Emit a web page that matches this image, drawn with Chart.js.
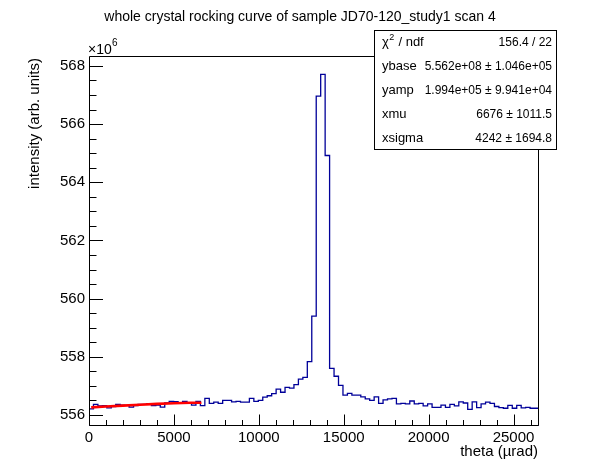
<!DOCTYPE html>
<html><head><meta charset="utf-8">
<script src="https://cdn.jsdelivr.net/npm/chart.js@4.4.1/dist/chart.umd.min.js"></script>
<style>html,body{margin:0;padding:0;background:#fff;} #wrap{width:598px;height:474px;position:relative;}</style>
</head><body><div id="wrap"><canvas id="c" width="598" height="474"></canvas></div>
<script>
const chartTitle = "whole crystal rocking curve of sample JD70-120_study1 scan 4";
const xTitle = "theta (\u00b5rad)";
const yTitle = "intensity (arb. units)";
const yExponent = "6";
const xRange = [0, 26500];
const yRange = [555.62, 568.34]; // intensity in units of 1e6
const nBins = 101;
const xTickLabels = [0, 5000, 10000, 15000, 20000, 25000];
const yTickLabels = [556, 558, 560, 562, 564, 566, 568];
// bin contents (x 1e6)
const counts = [
 556.25,556.21,556.36,556.31,556.32,556.24,556.29,556.36,556.34,556.33,
 556.27,556.32,556.36,556.36,556.39,556.32,556.34,556.27,556.41,556.47,
 556.46,556.40,556.47,556.40,556.34,556.47,556.32,556.57,556.40,556.44,
 556.40,556.50,556.50,556.45,556.47,556.44,556.44,556.57,556.47,556.50,
 556.61,556.66,556.73,556.89,556.78,556.95,556.92,557.04,557.23,557.29,
 557.83,559.40,566.96,567.71,564.92,557.60,557.33,557.02,556.68,556.74,
 556.68,556.68,556.62,556.55,556.50,556.62,556.40,556.52,556.55,556.57,
 556.38,556.40,556.38,556.48,556.38,556.40,556.31,556.38,556.26,556.26,
 556.34,556.26,556.36,556.31,556.45,556.41,556.19,556.45,556.25,556.38,
 556.44,556.40,556.29,556.25,556.23,556.33,556.23,556.33,556.24,556.26,
 556.23
];
// fit curve
const fitX = [130, 1000, 2000, 3000, 4000, 5000, 6000, 6620];
const fitY = [556.26, 556.29, 556.32, 556.35, 556.38, 556.40, 556.42, 556.42];
// stat box
const statLabels = ["ndf", "ybase", "yamp", "xmu", "xsigma"];
const statValues = ["156.4 / 22", "5.562e+08 \u00b1 1.046e+05", "1.994e+05 \u00b1 9.941e+04", "6676 \u00b1 1011.5", "4242 \u00b1 1694.8"];

const FONT = '"Liberation Sans", Arial, Helvetica, sans-serif';
const binW = (xRange[1] - xRange[0]) / nBins;
const histPts = [{x: xRange[0], y: yRange[0]}];
counts.forEach((v, i) => histPts.push({x: xRange[0] + i * binW, y: v}));
histPts.push({x: xRange[1], y: counts[counts.length - 1]});
histPts.push({x: xRange[1], y: yRange[0]});
const fitPts = fitX.map((x, i) => ({x, y: fitY[i]}));

const decor = {
  id: 'decor',
  afterDatasetsDraw(chart) {
    const {ctx, chartArea: a, scales: {x, y}} = chart;
    ctx.save();
    ctx.strokeStyle = '#000'; ctx.lineWidth = 1;
    const L = Math.round(a.left) + 0.5, R = Math.round(a.right) - 0.5, T = Math.round(a.top) + 0.5, B = Math.round(a.bottom) - 0.5;
    ctx.beginPath();
    ctx.rect(L, T, R - L, B - T);
    const yStep = yTickLabels[1] - yTickLabels[0];
    for (let k = -1; k < yTickLabels.length; k++) {
      const base = yTickLabels[0] + k * yStep;
      for (let m = 0; m < 4; m++) {
        const v = base + m * yStep / 4;
        if (v < yRange[0] || v > yRange[1]) continue;
        const py = Math.round(y.getPixelForValue(v)) + 0.5;
        const len = m === 0 ? 13.5 : 7;
        ctx.moveTo(L, py); ctx.lineTo(L + len, py);
      }
    }
    const xStep = xTickLabels[1] - xTickLabels[0];
    for (let k = 0; k <= xTickLabels.length; k++) {
      const base = xTickLabels[0] + k * xStep;
      for (let m = 0; m < 5; m++) {
        const v = base + m * xStep / 5;
        if (v < xRange[0] || v > xRange[1]) continue;
        const px = Math.round(x.getPixelForValue(v)) + 0.5;
        const len = m === 0 ? 11 : 5.5;
        ctx.moveTo(px, B); ctx.lineTo(px, B - len);
      }
    }
    ctx.stroke();

    ctx.fillStyle = '#000';
    ctx.font = '14px ' + FONT;
    ctx.textAlign = 'center'; ctx.textBaseline = 'middle';
    ctx.fillText(chartTitle, 300, 17);
    ctx.font = '15px ' + FONT;
    ctx.textAlign = 'right';
    ctx.fillText(xTitle, 538, 452);
    ctx.save();
    ctx.translate(35, 58);
    ctx.rotate(-Math.PI / 2);
    ctx.textAlign = 'right';
    ctx.fillText(yTitle, 0, 0);
    ctx.restore();
    ctx.textAlign = 'left'; ctx.textBaseline = 'alphabetic';
    ctx.font = '14px ' + FONT;
    ctx.fillText('\u00d710', 88, 54);
    ctx.font = '10px ' + FONT;
    ctx.fillText(yExponent, 112, 46);

    ctx.fillStyle = '#fff';
    ctx.fillRect(374.5, 30.5, 182, 119);
    ctx.strokeRect(374.5, 30.5, 182, 119);
    ctx.fillStyle = '#000';
    ctx.textBaseline = 'middle';
    const rowY = [42.5, 66.5, 90.5, 114.5, 138.5];
    statLabels.forEach((lab, i) => {
      ctx.textAlign = 'left';
      ctx.font = '13px ' + FONT;
      if (i === 0) {
        ctx.fillText('\u03c7', 382, rowY[i]);
        const w = ctx.measureText('\u03c7').width;
        ctx.font = '9px ' + FONT;
        ctx.fillText('2', 382 + w + 0.5, rowY[i] - 5);
        const w2 = ctx.measureText('2').width;
        ctx.font = '13px ' + FONT;
        ctx.fillText(' / ' + lab, 382 + w + w2 + 1, rowY[i]);
      } else {
        ctx.fillText(lab, 382, rowY[i]);
      }
      ctx.font = '12px ' + FONT;
      ctx.textAlign = 'right';
      ctx.fillText(statValues[i], 552, rowY[i]);
    });
    ctx.restore();
  }
};

new Chart(document.getElementById('c'), {
  type: 'line',
  data: {
    datasets: [
      {data: fitPts, borderColor: '#ff0000', borderWidth: 2.6, pointRadius: 0, tension: 0, fill: false, order: 0},
      {data: histPts, borderColor: '#000099', borderWidth: 1.3, pointRadius: 0, stepped: 'after', fill: false, order: 1}
    ]
  },
  options: {
    responsive: false, animation: false, devicePixelRatio: 1,
    layout: {padding: {top: 56, right: 59, left: 0, bottom: 0}},
    plugins: {legend: {display: false}, tooltip: {enabled: false}, title: {display: false}},
    scales: {
      x: {
        type: 'linear', min: xRange[0], max: xRange[1],
        afterBuildTicks: s => { s.ticks = xTickLabels.map(v => ({value: v})); },
        afterFit: s => { s.height = 48; },
        grid: {display: false, drawTicks: false}, border: {display: false},
        ticks: {padding: 3, color: '#000', font: {family: FONT, size: 15}, maxRotation: 0, autoSkip: false, callback: v => String(v)}
      },
      y: {
        type: 'linear', min: yRange[0], max: yRange[1],
        afterBuildTicks: s => { s.ticks = yTickLabels.map(v => ({value: v})); },
        afterFit: s => { s.width = 89; },
        grid: {display: false, drawTicks: false}, border: {display: false},
        ticks: {padding: 4, color: '#000', font: {family: FONT, size: 15}, autoSkip: false, callback: v => String(v)}
      }
    }
  },
  plugins: [decor]
});
</script>
</body></html>
